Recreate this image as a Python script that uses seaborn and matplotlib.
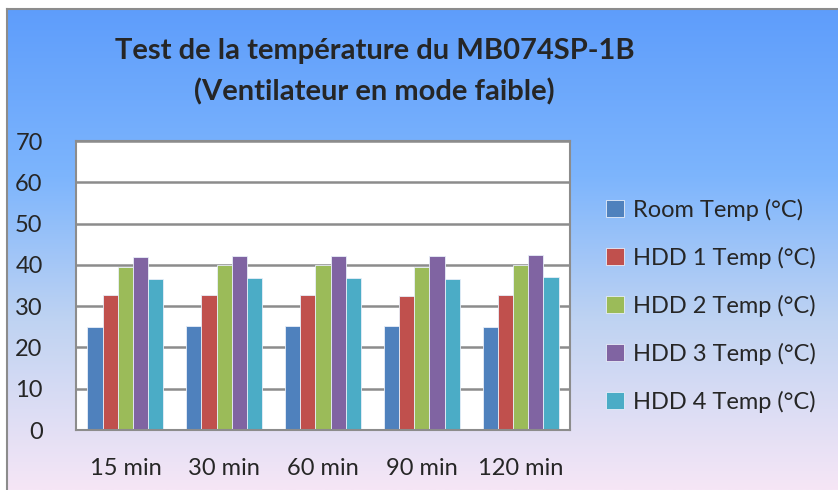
import numpy as np
import pandas as pd
import matplotlib
matplotlib.use("Agg")
import matplotlib.pyplot as plt
from matplotlib.colors import LinearSegmentedColormap
import seaborn as sns

# data
times = ["15 min", "30 min", "60 min", "90 min", "120 min"]
room = [25.0, 25.2, 25.3, 25.2, 24.9]
hdd1 = [32.7, 32.7, 32.7, 32.5, 32.8]
hdd2 = [39.6, 39.9, 39.9, 39.6, 39.9]
hdd3 = [42.0, 42.1, 42.2, 42.1, 42.4]
hdd4 = [36.6, 36.8, 36.8, 36.6, 37.0]
series = ["Room Temp (°C)", "HDD 1 Temp (°C)", "HDD 2 Temp (°C)",
          "HDD 3 Temp (°C)", "HDD 4 Temp (°C)"]
colors = ["#4F81BD", "#C0504D", "#9BBB59", "#8064A2", "#4BACC6"]

rows = []
for name, vals in zip(series, [room, hdd1, hdd2, hdd3, hdd4]):
    for t, v in zip(times, vals):
        rows.append({"time": t, "serie": name, "temp": v})
df = pd.DataFrame(rows)

sns.set_style("white")
plt.rcParams["font.family"] = ["Lato", "DejaVu Sans"]

fig = plt.figure(figsize=(8.38, 4.9), dpi=100)

# gradient background inside the outer frame
bg = fig.add_axes([7 / 838, 0, 1 - 7 / 838, 1 - 9 / 490])
cmap = LinearSegmentedColormap.from_list(
    "bg", [(0, "#5E9DFB"), (0.35, "#7DB5FD"), (0.65, "#BFD3F2"), (1, "#F6E6F6")])
grad = np.linspace(0, 1, 256).reshape(-1, 1)
bg.imshow(grad, aspect="auto", cmap=cmap, extent=[0, 1, 1, 0])
bg.set_xticks([])
bg.set_yticks([])
for side in ["top", "left"]:
    bg.spines[side].set_color("#8C8C8C")
    bg.spines[side].set_linewidth(1.5)
for side in ["bottom", "right"]:
    bg.spines[side].set_visible(False)

ax = fig.add_axes([76 / 838, 1 - 430 / 490, (570 - 76) / 838, (430 - 141) / 490])
ax.set_facecolor("white")
sns.barplot(data=df, x="time", y="temp", hue="serie", palette=colors,
            width=0.77, saturation=1, ax=ax, edgecolor="#E8EEF8", linewidth=0.6)

ax.set_ylim(0, 70)
ax.set_yticks(range(0, 71, 10))
ax.yaxis.grid(True, color="#8C8C8C", linewidth=1.8)
ax.set_axisbelow(True)
for s in ax.spines.values():
    s.set_color("#8C8C8C")
    s.set_linewidth(1.5)
ax.set_xlabel("")
ax.set_ylabel("")
ax.tick_params(axis="x", length=0, pad=20, labelsize=17)
ax.tick_params(axis="y", length=0, pad=24, labelsize=17)

ax.legend(loc="center left", bbox_to_anchor=(1.03, 0.43), frameon=False,
          fontsize=17, labelspacing=1.1, handlelength=0.75, handleheight=0.75,
          handletextpad=0.4)

fig.text(0.447, 1 - 51 / 490, "Test de la température du MB074SP-1B",
         ha="center", va="center", fontsize=21, fontweight="bold")
fig.text(0.447, 1 - 92 / 490, "(Ventilateur en mode faible)",
         ha="center", va="center", fontsize=21, fontweight="bold")

fig.savefig("out.png", dpi=100)
